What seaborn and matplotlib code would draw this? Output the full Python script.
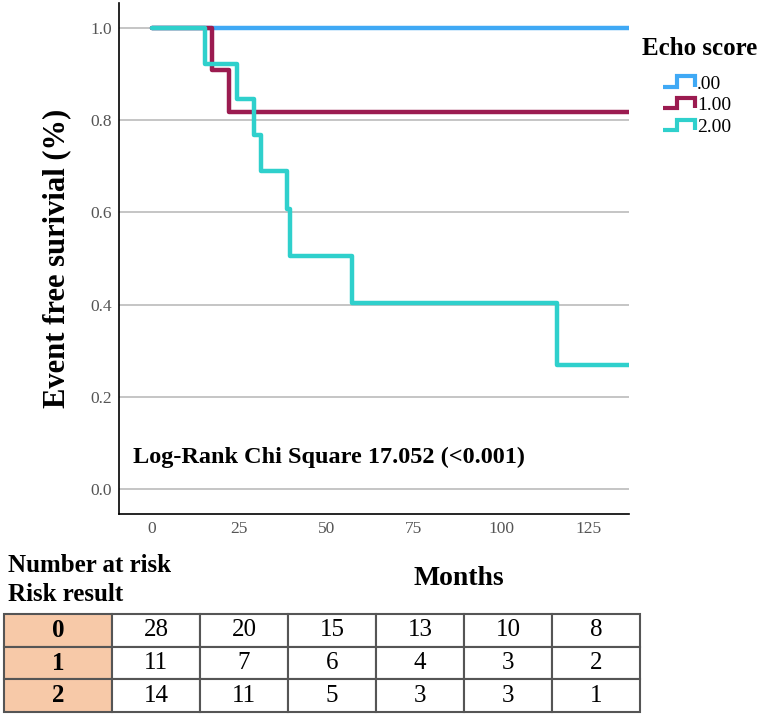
import numpy as np
import pandas as pd
import matplotlib
matplotlib.use("Agg")
import matplotlib.pyplot as plt
import seaborn as sns
from matplotlib.lines import Line2D
from matplotlib.legend_handler import HandlerBase

# Kaplan-Meier step data (months, survival proportion)
group_labels = ['.00', '1.00', '2.00']
time_00 = [0, 137]
surv_00 = [1.0, 1.0]
time_10 = [0, 17.2, 22.0, 137]
surv_10 = [1.0, 0.909, 0.818, 0.818]
time_20 = [0, 15.2, 24.3, 29.2, 31.2, 38.6, 39.6, 57.3, 116.0, 137]
surv_20 = [1.0, 0.923, 0.847, 0.769, 0.691, 0.607, 0.506, 0.404, 0.269, 0.269]

group_colors = ['#3fa9f5', '#9b1b50', '#2fd0cc']

x_ticks = [0, 25, 50, 75, 100, 125]
y_ticks = [0.0, 0.2, 0.4, 0.6, 0.8, 1.0]

# Number-at-risk table
risk_groups = ['0', '1', '2']
at_risk_0 = [28, 20, 15, 13, 10, 8]
at_risk_1 = [11, 7, 6, 4, 3, 2]
at_risk_2 = [14, 11, 5, 3, 3, 1]

stat_text = 'Log-Rank Chi Square 17.052 (<0.001)'

# Build long-form frame for seaborn
frames = []
for lab, t, s in zip(group_labels, [time_00, time_10, time_20], [surv_00, surv_10, surv_20]):
    frames.append(pd.DataFrame({'month': t, 'survival': s, 'group': lab}))
km_df = pd.concat(frames, ignore_index=True)

sns.set_theme(style="white")
plt.rcParams['font.family'] = ['Liberation Serif', 'DejaVu Serif']
plt.rcParams['text.color'] = 'black'

fig = plt.figure(figsize=(7.6, 7.16), dpi=100)
ax = fig.add_axes([119 / 760, 1 - 514 / 716, 510 / 760, 511 / 716])

sns.lineplot(data=km_df, x='month', y='survival', hue='group', hue_order=group_labels,
             palette=group_colors, estimator=None, sort=False, drawstyle='steps-post',
             linewidth=3.2, legend=False, ax=ax)

ax.set_xlim(-9.5, 136.6)
ax.set_ylim(-0.055, 1.055)
ax.set_xticks(x_ticks)
ax.set_yticks(y_ticks)
ax.set_yticklabels([f'{v:.1f}' for v in y_ticks])
ax.tick_params(length=0, pad=5, labelsize=12.5, labelcolor='#555555')
ax.yaxis.grid(True, color='#b5b5b5', linewidth=1.1)
ax.set_axisbelow(True)
for side in ['top', 'right']:
    ax.spines[side].set_visible(False)
for side in ['left', 'bottom']:
    ax.spines[side].set_color('black')
    ax.spines[side].set_linewidth(1.2)
ax.set_xlabel('')
ax.set_ylabel('')

ax.text(0.0275, 0.1115, stat_text, transform=ax.transAxes, fontsize=17.5,
        fontweight='bold', va='center', ha='left')

fig.text(57 / 760, 1 - 258 / 716, 'Event free surivial (%)', rotation=90,
         fontsize=22, fontweight='bold', ha='center', va='center')


# Legend with step-shaped icons
class StepHandler(HandlerBase):
    def create_artists(self, legend, orig_handle, xdescent, ydescent, width, height, fontsize, trans):
        x0, y0 = -xdescent, -ydescent
        xs = [x0, x0 + 0.45 * width, x0 + 0.45 * width, x0 + width, x0 + width]
        ys = [y0 + 0.15 * height, y0 + 0.15 * height, y0 + 0.9 * height, y0 + 0.9 * height, y0 + 0.15 * height]
        line = Line2D(xs, ys, color=orig_handle.get_color(), linewidth=3,
                      solid_joinstyle='miter', solid_capstyle='butt', transform=trans)
        return [line]


fig.text(700 / 760, 1 - 55 / 716, 'Echo score', fontsize=18, fontweight='bold',
         ha='center', va='baseline')
handles = [Line2D([], [], color=c) for c in group_colors]
fig.legend(handles, group_labels, handler_map={Line2D: StepHandler()},
           loc='upper left', bbox_to_anchor=(663 / 760, 1 - 75 / 716),
           frameon=False, prop={'family': 'Liberation Serif', 'size': 14},
           handlelength=1.65, handleheight=0.7, handletextpad=0.1,
           labelspacing=0.22, borderpad=0, borderaxespad=0)

# Labels under the plot
fig.text(8 / 760, 1 - 572 / 716, 'Number at risk', fontsize=18, fontweight='bold',
         ha='left', va='baseline')
fig.text(8 / 760, 1 - 601 / 716, 'Risk result', fontsize=18, fontweight='bold',
         ha='left', va='baseline')
fig.text(459 / 760, 1 - 585 / 716, 'Months', fontsize=20, fontweight='bold',
         ha='center', va='baseline')

# Number-at-risk table
tax = fig.add_axes([4 / 760, 1 - 712 / 716, 636 / 760, 98 / 716])
tax.axis('off')
cell_text = [[g] + [str(v) for v in row]
             for g, row in zip(risk_groups, [at_risk_0, at_risk_1, at_risk_2])]
cell_colours = [['#f7c9a8'] + ['white'] * 6 for _ in risk_groups]
col_widths = [108] + [88] * 6
tbl = tax.table(cellText=cell_text, cellColours=cell_colours, cellLoc='center',
                colWidths=[w / sum(col_widths) for w in col_widths], bbox=[0, 0, 1, 1])
tbl.auto_set_font_size(False)
for (r, c), cell in tbl.get_celld().items():
    cell.set_edgecolor('#555555')
    cell.set_linewidth(1.5)
    cell.get_text().set_fontsize(18)
    cell.get_text().set_fontfamily('Liberation Serif')
    cell.get_text().set_color('black')
    if c == 0:
        cell.get_text().set_fontweight('bold')

fig.savefig('out.png', dpi=100)
